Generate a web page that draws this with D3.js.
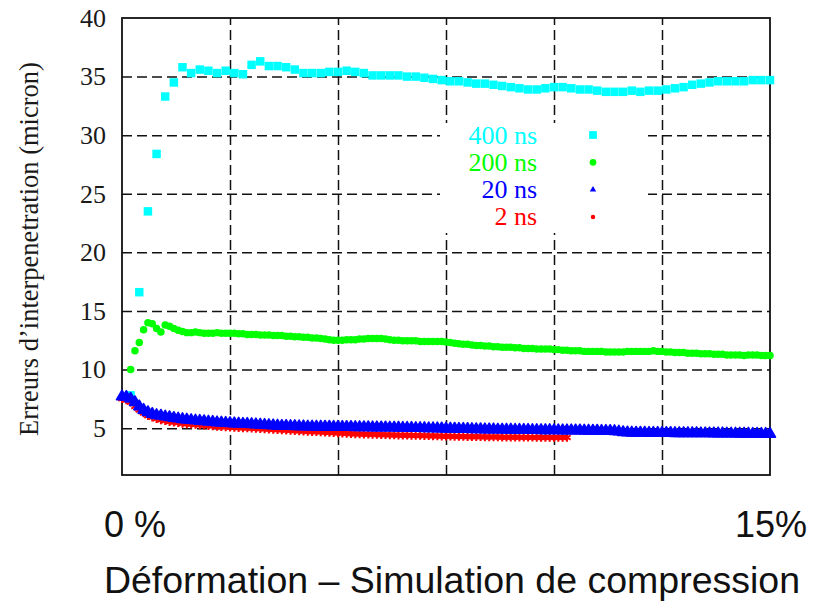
<!DOCTYPE html>
<html>
<head>
<meta charset="utf-8">
<script src="https://cdn.jsdelivr.net/npm/d3@7"></script>
<style>
  html, body { margin: 0; padding: 0; background: #fff; }
  svg { display: block; }
</style>
</head>
<body>
<svg id="chart" width="825" height="603"></svg>
<script>
// ---------------- DATA ----------------
const seriesNames = ["400 ns", "200 ns", "20 ns", "2 ns"];
const seriesColors = ["#00ffff", "#00ff00", "#0000ff", "#ff0000"];

// 400 ns : strain (%) sampled every 0.2 from 0.2 to 15.0
const strain400 = d3.range(1, 76).map(i => +(i * 0.2).toFixed(1));
const err400 = [
  7.8, 16.6, 23.5, 28.4, 33.3, 34.5, 35.8, 35.3, 35.6, 35.5,
  35.3, 35.5, 35.3, 35.2, 36.0, 36.3, 35.9, 35.9, 35.8, 35.6,
  35.3, 35.3, 35.3, 35.4, 35.4, 35.5, 35.4, 35.3, 35.1, 35.1,
  35.1, 35.1, 35.0, 35.0, 34.9, 34.8, 34.7, 34.6, 34.6, 34.5,
  34.4, 34.4, 34.3, 34.2, 34.1, 34.0, 33.9, 33.9, 34.0, 34.1,
  34.1, 34.0, 33.9, 33.9, 33.8, 33.7, 33.7, 33.7, 33.8, 33.7,
  33.8, 33.8, 33.9, 34.0, 34.1, 34.3, 34.4, 34.5, 34.6, 34.6,
  34.6, 34.6, 34.7, 34.7, 34.7
];

// 200 ns : strain sampled every 0.1 from 0.2 to 15.0
const strain200 = d3.range(2, 151).map(i => +(i * 0.1).toFixed(1));
const err200 = [
  10.0, 11.6, 12.3, 13.4, 14.0, 13.9, 13.5, 13.2, 13.8,
  13.7, 13.5, 13.35, 13.25, 13.15, 13.15, 13.2, 13.15, 13.1,
  13.1, 13.1, 13.15, 13.1, 13.1, 13.1,
  13.1, 13.05, 13.05, 13.0, 13.0, 13.0, 12.95, 12.95, 12.95, 12.9, 12.9, 12.9,
  12.85, 12.85, 12.8, 12.8, 12.75, 12.75, 12.7, 12.7,
  12.65, 12.6, 12.55, 12.5, 12.5,
  12.5, 12.55, 12.55, 12.55,
  12.6, 12.6, 12.65, 12.65, 12.65, 12.65,
  12.6, 12.55, 12.5, 12.5, 12.45,
  12.45, 12.45, 12.45, 12.4, 12.4, 12.4, 12.4, 12.4, 12.4, 12.35,
  12.3, 12.25, 12.2, 12.15, 12.15, 12.1,
  12.05, 12.05, 12.0, 12.0, 11.95, 11.95, 11.9, 11.9,
  11.9, 11.85, 11.85, 11.8, 11.8, 11.8, 11.75, 11.75,
  11.75, 11.75, 11.7, 11.7, 11.65, 11.65, 11.6, 11.6,
  11.6, 11.55, 11.55, 11.55, 11.55, 11.55, 11.5, 11.5,
  11.5, 11.5, 11.5, 11.55, 11.55, 11.55, 11.55, 11.55,
  11.55, 11.6, 11.55, 11.55, 11.5, 11.5, 11.45, 11.45,
  11.45, 11.4, 11.4, 11.4, 11.35, 11.35, 11.35, 11.3,
  11.3, 11.3, 11.25, 11.25, 11.25, 11.25, 11.2, 11.25,
  11.25, 11.25, 11.2, 11.2, 11.2
];

// 20 ns : strain sampled every 0.1 from 0.0 to 15.0
const strain20 = d3.range(0, 151).map(i => +(i * 0.1).toFixed(1));
const err20 = [
  7.7, 7.65, 7.5, 7.2, 6.85, 6.55, 6.35, 6.2, 6.1, 6.05,
  5.98, 5.92, 5.86, 5.81, 5.76, 5.72, 5.68, 5.64, 5.61, 5.58,
  5.55, 5.52, 5.48, 5.46, 5.44, 5.42, 5.40, 5.38, 5.36, 5.35, 5.33,
  5.31, 5.29, 5.27, 5.25, 5.23, 5.21, 5.19,
  5.18, 5.17, 5.16, 5.15, 5.14, 5.13, 5.13, 5.12,
  5.12, 5.11, 5.11, 5.1, 5.1, 5.1, 5.09, 5.09,
  5.08, 5.08, 5.07, 5.07, 5.06, 5.06, 5.05, 5.05,
  5.04, 5.04, 5.03, 5.02, 5.02, 5.01, 5.0, 5.0,
  4.99, 4.98, 4.98, 4.97, 4.96, 4.95, 4.95, 4.94,
  4.93, 4.93, 4.92, 4.91, 4.9, 4.9, 4.89, 4.88,
  4.88, 4.87, 4.87, 4.86, 4.86, 4.85, 4.85, 4.84,
  4.84, 4.83, 4.83, 4.82, 4.82, 4.82, 4.81, 4.81,
  4.8, 4.8, 4.8, 4.79, 4.79, 4.78, 4.78, 4.77,
  4.77, 4.76, 4.76, 4.75, 4.74, 4.7, 4.64, 4.62,
  4.61, 4.6, 4.6, 4.6, 4.59, 4.59, 4.59, 4.58,
  4.58, 4.58, 4.57, 4.57, 4.57, 4.56, 4.56, 4.56,
  4.55, 4.55, 4.55, 4.54, 4.54, 4.54, 4.53, 4.53,
  4.53, 4.52, 4.52, 4.52, 4.51, 4.51, 4.5, 4.5, 4.5
];

// 2 ns : strain sampled every 0.1 from 0.0 to 10.3
const strain2 = d3.range(0, 104).map(i => +(i * 0.1).toFixed(1));
const err2 = [
  7.5, 7.4, 7.2, 6.85, 6.55, 6.3, 6.05, 5.92, 5.8, 5.7,
  5.62, 5.55, 5.5, 5.45, 5.4, 5.36, 5.33, 5.3, 5.27, 5.24,
  5.2, 5.17, 5.14, 5.12, 5.1, 5.08, 5.06, 5.04, 5.02, 5.0, 4.98,
  4.96, 4.94, 4.92, 4.9, 4.88, 4.86, 4.84,
  4.82, 4.8, 4.78, 4.76, 4.74, 4.72, 4.7, 4.68,
  4.66, 4.64, 4.62, 4.6, 4.58, 4.56, 4.54, 4.52,
  4.5, 4.49, 4.48, 4.47, 4.46, 4.45, 4.44, 4.43,
  4.42, 4.41, 4.4, 4.4, 4.39, 4.38, 4.37, 4.36,
  4.35, 4.34, 4.33, 4.32, 4.31, 4.3, 4.3, 4.29,
  4.28, 4.28, 4.27, 4.27, 4.26, 4.26, 4.25, 4.25,
  4.24, 4.24, 4.23, 4.23, 4.22, 4.22, 4.22, 4.21,
  4.21, 4.21, 4.2, 4.2, 4.2, 4.2, 4.2, 4.2, 4.2, 4.2
];

const yTickValues = [5, 10, 15, 20, 25, 30, 35, 40];
const xGridValues = [2.5, 5, 7.5, 10, 12.5];
const xEndLabels = ["0 %", "15%"];
const yTitle = "Erreurs d\u2019interpenetration (micron)";
const xTitle = "D\u00e9formation \u2013 Simulation de compression";

// ---------------- CHART ----------------
const svg = d3.select("#chart");
const plot = { left: 122, right: 770, top: 18, bottom: 475 };
const x = d3.scaleLinear().domain([0, 15]).range([plot.left, plot.right]);
const y = d3.scaleLinear().domain([1, 40]).range([plot.bottom, plot.top]);

// grid
const grid = svg.append("g").attr("class", "grid");
grid.append("g")
  .attr("transform", `translate(${plot.left},0)`)
  .call(d3.axisLeft(y).tickValues(yTickValues.filter(v => v < 40))
    .tickSize(-(plot.right - plot.left)).tickFormat(""))
  .call(g => g.select(".domain").remove());
grid.append("g")
  .attr("transform", `translate(0,${plot.bottom})`)
  .call(d3.axisBottom(x).tickValues(xGridValues)
    .tickSize(-(plot.bottom - plot.top)).tickFormat(""))
  .call(g => g.select(".domain").remove());
grid.selectAll("line")
  .attr("stroke", "#111").attr("stroke-width", 1.5).attr("stroke-dasharray", "10,5");

// legend background (hides grid)
const legendBox = { x0: 440, y0: 123, x1: 648, y1: 233 };
svg.append("rect")
  .attr("x", legendBox.x0).attr("y", legendBox.y0)
  .attr("width", legendBox.x1 - legendBox.x0).attr("height", legendBox.y1 - legendBox.y0)
  .attr("fill", "#fff");

// border
svg.append("rect")
  .attr("x", plot.left).attr("y", plot.top)
  .attr("width", plot.right - plot.left).attr("height", plot.bottom - plot.top)
  .attr("fill", "none").attr("stroke", "#111").attr("stroke-width", 1.8);

// y tick labels
svg.append("g")
  .attr("transform", `translate(${plot.left},0)`)
  .call(d3.axisLeft(y).tickValues(yTickValues).tickSize(0).tickPadding(16))
  .call(g => g.select(".domain").remove())
  .call(g => g.selectAll("text")
    .attr("font-family", "'Liberation Serif', 'Times New Roman', serif")
    .attr("font-size", 26).attr("fill", "#1a1a1a"));

// data
const sym = {
  square: d3.symbol().type(d3.symbolSquare).size(72),
  circle: d3.symbol().type(d3.symbolCircle).size(44),
  triangle: d3.symbol().type(d3.symbolTriangle).size(52),
  aster: d3.symbol().type(d3.symbolAsterisk).size(50)
};
const dataLayer = svg.append("g");
function drawSeries(strain, vals, path, color, mode) {
  const pts = strain.map((s, i) => ({ s, v: vals[i] }));
  const sel = dataLayer.append("g").selectAll("path").data(pts).join("path")
    .attr("transform", d => `translate(${x(d.s)},${y(d.v)})`)
    .attr("d", path);
  if (mode === "stroke") sel.attr("fill", "none").attr("stroke", color).attr("stroke-width", 2);
  else if (mode === "both") sel.attr("fill", color).attr("stroke", color).attr("stroke-width", 1.6)
    .attr("stroke-linejoin", "round");
  else sel.attr("fill", color);
}
drawSeries(strain2, err2, sym.aster, seriesColors[3], "stroke");
drawSeries(strain400, err400, sym.square, seriesColors[0], "fill");
drawSeries(strain200, err200, sym.circle, seriesColors[1], "fill");
drawSeries(strain20, err20, sym.triangle, seriesColors[2], "both");

// legend
const legendSyms = [
  d3.symbol().type(d3.symbolSquare).size(60),
  d3.symbol().type(d3.symbolCircle).size(36),
  d3.symbol().type(d3.symbolTriangle).size(18),
  d3.symbol().type(d3.symbolCircle).size(16)
];
const legend = svg.append("g");
seriesNames.forEach((name, i) => {
  const cy = 135 + i * 27.3;
  legend.append("text")
    .attr("x", 537).attr("y", cy + 8.5)
    .attr("text-anchor", "end")
    .attr("font-family", "'Liberation Serif', 'Times New Roman', serif")
    .attr("font-size", 26).attr("fill", seriesColors[i])
    .text(name);
  legend.append("path")
    .attr("transform", `translate(593,${cy})`)
    .attr("d", legendSyms[i]())
    .attr("fill", seriesColors[i]);
});

// y title
svg.append("text")
  .attr("transform", "translate(38,249) rotate(-90)")
  .attr("text-anchor", "middle")
  .attr("font-family", "'Liberation Serif', 'Times New Roman', serif")
  .attr("font-size", 26.5).attr("fill", "#1a1a1a")
  .text(yTitle);

// x end labels and title
const sansFont = "'Liberation Sans', Arial, sans-serif";
svg.append("text")
  .attr("x", 104).attr("y", 537)
  .attr("font-family", sansFont)
  .attr("font-size", 36).attr("fill", "#111")
  .text(xEndLabels[0]);
svg.append("text")
  .attr("x", x(15) + 1).attr("y", 537)
  .attr("text-anchor", "middle")
  .attr("font-family", sansFont)
  .attr("font-size", 36).attr("fill", "#111")
  .text(xEndLabels[1]);
svg.append("text")
  .attr("x", 452).attr("y", 593)
  .attr("text-anchor", "middle")
  .attr("font-family", sansFont)
  .attr("font-size", 37.5).attr("fill", "#111")
  .text(xTitle);
</script>
</body>
</html>
